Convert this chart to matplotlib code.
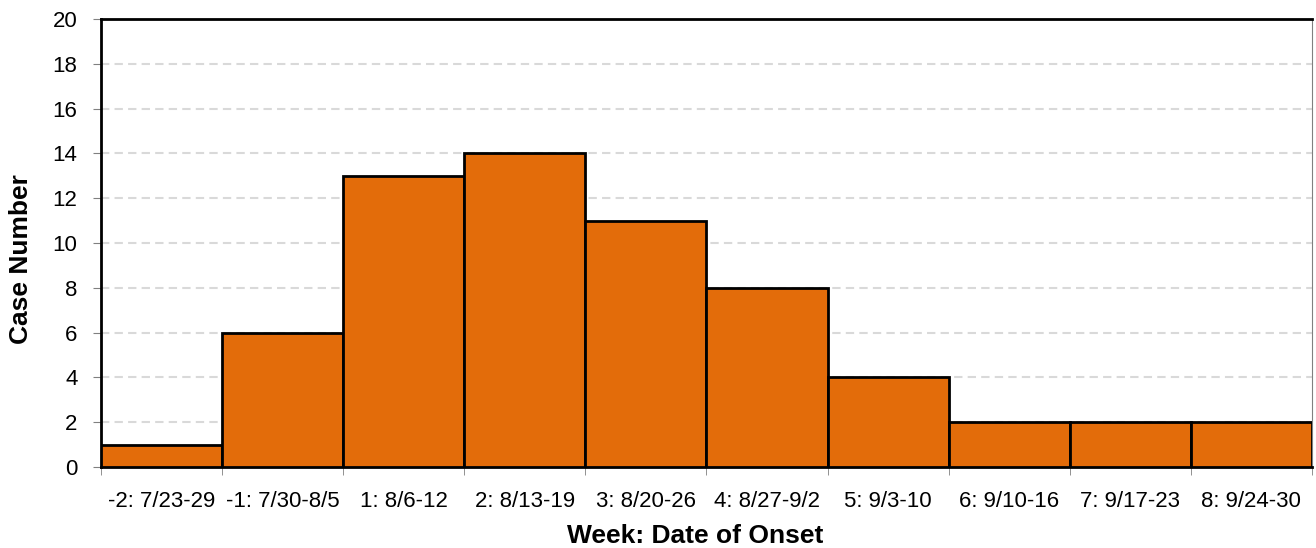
import matplotlib.pyplot as plt
import numpy as np

weeks = ["-2: 7/23-29", "-1: 7/30-8/5", "1: 8/6-12", "2: 8/13-19", "3: 8/20-26",
         "4: 8/27-9/2", "5: 9/3-10", "6: 9/10-16", "7: 9/17-23", "8: 9/24-30"]
cases = [1, 6, 13, 14, 11, 8, 4, 2, 2, 2]

plt.rcParams['font.family'] = ['Liberation Sans', 'DejaVu Sans']

fig = plt.figure(figsize=(13.16, 5.48), dpi=100)
ax = fig.add_axes([0.0768, 0.148, 0.920, 0.817])

x = np.arange(len(weeks))
ax.bar(x, cases, width=1.0, color='#E36C0A', edgecolor='black', linewidth=2, zorder=3)

ax.set_xlim(-0.5, len(weeks) - 0.5)
ax.set_ylim(0, 20)
ax.set_yticks(np.arange(0, 21, 2))
ax.yaxis.grid(True, color='#d9d9d9', linestyle=(0, (4, 2.5)), linewidth=1.5, zorder=0)

ax.set_xticks(x)
ax.set_xticklabels(weeks)
ax.set_xticks(np.arange(-0.5, len(weeks)), minor=True)
ax.tick_params(axis='x', which='major', length=0, pad=17, labelsize=16)
ax.tick_params(axis='x', which='minor', length=6, color='#808080')
ax.tick_params(axis='y', length=6, color='#808080', labelsize=16, pad=11)

for side in ['left', 'bottom', 'top']:
    ax.spines[side].set_linewidth(2)
ax.spines['right'].set_color('#808080')

ax.set_xlabel("Week: Date of Onset", fontsize=19, fontweight='bold')
ax.set_ylabel("Case Number", fontsize=19, fontweight='bold')
# labels in the original sit a little off-centre
ax.xaxis.set_label_coords(0.491, -0.127)
ax.yaxis.set_label_coords(-0.056, 0.464)

fig.savefig("out.png", dpi=100)
